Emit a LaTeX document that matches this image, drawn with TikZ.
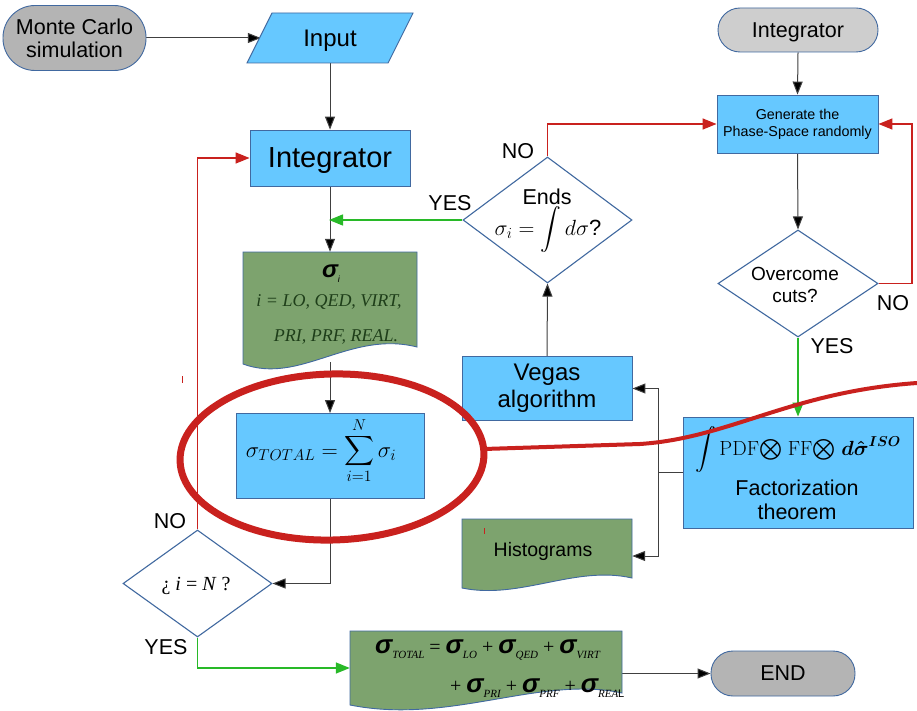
\RequirePackage{fix-cm}
\documentclass[tikz,border=0pt]{standalone}
\usepackage{amsmath}
\usepackage{bm}
\usepackage[no-math]{fontspec}
\setmainfont{Liberation Sans}
\newfontfamily\lserif{Liberation Serif}
\newfontfamily\lsans{Liberation Sans}
\usetikzlibrary{arrows.meta,shapes.geometric,backgrounds}
\definecolor{boxblue}{RGB}{102,200,255}
\definecolor{edgeblue}{RGB}{65,105,160}
\definecolor{docgreen}{RGB}{125,163,110}
\definecolor{txtgreen}{RGB}{30,62,25}
\definecolor{termgray}{RGB}{180,180,180}
\definecolor{termlight}{RGB}{206,206,206}
\definecolor{flowred}{RGB}{201,33,30}
\definecolor{flowgreen}{RGB}{40,185,40}
\newcommand\mysig[1]{{\lsans\fontsize{26}{26}\selectfont\bfseries\itshape σ}{\lserif\itshape\fontsize{11}{11}\selectfont\raisebox{-5pt}{#1}}}
\tikzset{
  every node/.style={inner sep=0pt, align=center, font=\fontsize{21.5}{24}\selectfont},
  sline/.style={text depth=0pt},
  procbox/.style={rectangle, draw=edgeblue, fill=boxblue, line width=0.9pt},
  termbox/.style={rectangle, draw=edgeblue, fill=termgray, line width=0.9pt},
  decbox/.style={diamond, draw=edgeblue, fill=white, line width=1.1pt},
  docbox/.style={draw=edgeblue, fill=docgreen, line width=0.9pt},
  conn/.style={draw=black!75, line width=1pt, -{Triangle[length=13pt,width=10pt,fill=black]}},
  plainconn/.style={draw=black!75, line width=1pt},
  redconn/.style={draw=flowred, line width=1.4pt, -{Triangle[length=14pt,width=11pt,fill=flowred]}},
  greenconn/.style={draw=flowgreen, line width=1.4pt, -{Triangle[length=14pt,width=11pt,fill=flowgreen]}},
  annot/.style={draw=flowred},
}
\begin{document}
\begin{tikzpicture}[x=1pt,y=-1pt]
\useasboundingbox (0,0) rectangle (917,711);

% ---- left column ----
\node[termbox, minimum width=143, minimum height=65, rounded corners=32pt, font=\fontsize{21.5}{23}\selectfont] (mc) at (74.5,38) {Monte Carlo\\simulation};

\draw[procbox] (247,63) -- (272,13) -- (413,13) -- (388,63) -- cycle;
\node[sline, minimum width=138, minimum height=50, font=\fontsize{24}{26}\selectfont] (input) at (330,38) {Input};

\node[procbox, sline, minimum width=160, minimum height=56, font=\fontsize{29}{32}\selectfont] (integ) at (330,158) {Integrator};

\draw[docbox] (243,252) -- (417,252) -- (417,347) .. controls (350,330) and (300,385) .. (243,364) -- cycle;
\node[minimum width=174, minimum height=110] (doci) at (330,307) {};
\node[font=\fontsize{24}{24}\selectfont] (sgi) at (331,274) {{\bfseries\itshape σ}\raisebox{-5pt}{\fontsize{9}{9}\selectfont\itshape i}};
\node[sline, font=\lserif\itshape\fontsize{18}{18}\selectfont, text=txtgreen] (li1) at (329,301) {i = LO, QED, VIRT,};
\node[sline, font=\lserif\itshape\fontsize{18}{18}\selectfont, text=txtgreen] (li2) at (336,336) {PRI, PRF, REAL.};

\node[procbox, minimum width=188, minimum height=85] (sum) at (330,456) {};
\node[anchor=base, font=\fontsize{22.5}{22}\selectfont] (sumf) at (321,457) {$\displaystyle\sigma_{TOTAL}=\sum_{i=1}^{N}\sigma_i$};

\node[decbox, minimum width=149, minimum height=107] (dN) at (197.5,583.5) {};
\node[sline, font=\lserif\fontsize{20}{20}\selectfont] (dNt) at (196,584) {¿ \textit{i} = \textit{N} ?};

\draw[docbox] (350,631) -- (622,631) -- (622,693) .. controls (540,675) and (450,725) .. (350,705) -- cycle;
\node[minimum width=272, minimum height=74] (tot) at (486,668) {};
\node[anchor=base west, font=\lserif\fontsize{20}{20}\selectfont] (tl1) at (375,653) {\mysig{TOTAL} = \mysig{LO} + \mysig{QED} + \mysig{VIRT}};
\node[anchor=base west, font=\lserif\fontsize{20}{20}\selectfont] (tl2) at (450,692) {+ \mysig{PRI} + \mysig{PRF} + \mysig{REA{\lsans\upshape L}}};

\node[termbox, sline, minimum width=144, minimum height=45, rounded corners=22pt] (end) at (783,673.5) {END};

% ---- middle column ----
\node[decbox, minimum width=169, minimum height=126] (dE) at (547.5,220) {};
\node[sline] (endst) at (547,197) {Ends};
\node[anchor=base, font=\fontsize{22}{22}\selectfont] (endsf) at (548,235) {$\displaystyle\sigma_i=\int d\sigma$?};

\node[procbox, minimum width=170, minimum height=64, font=\fontsize{24}{27}\selectfont] (vegas) at (547,388.5) {Vegas\\algorithm};

\draw[docbox] (462,519) -- (632,519) -- (632,578) .. controls (575,565) and (520,600) .. (462,588) -- cycle;
\node[minimum width=170, minimum height=74] (hist) at (547,556) {};
\node[sline, font=\fontsize{19.5}{22}\selectfont] (histt) at (543,549) {Histograms};

% ---- right column ----
\node[termbox, sline, fill=termlight, minimum width=160, minimum height=44, rounded corners=22pt] (integ2) at (798,30) {Integrator};
\node[procbox, minimum width=161, minimum height=58, font=\fontsize{14.3}{17}\selectfont] (gen) at (797.5,124) {Generate the\\Phase-Space randomly};
\node[decbox, minimum width=160, minimum height=107] (dO) at (798,283.5) {};
\node[font=\fontsize{19}{22}\selectfont] (dOt) at (795,285) {Overcome\\cuts?};
\node[procbox, minimum width=230, minimum height=111] (fact) at (798,472.5) {};
\node[anchor=base, font=\fontsize{20.5}{20}\selectfont] (factf) at (798,455) {$\displaystyle\int\mathrm{PDF}\mathord{\textstyle\bigotimes}\;\mathrm{FF}\mathord{\textstyle\bigotimes}\;\bm{d}\bm{\hat{\sigma}}^{\bm{ISO}}$};
\node (factt) at (797,500) {Factorization\\theorem};

% ---- labels ----
\node[sline] (noE) at (518,151) {NO};
\node[sline] (yesE) at (450,203) {YES};
\node[sline] (noO) at (893,303) {NO};
\node[sline] (yesO) at (832,346) {YES};
\node[sline] (noN) at (170,521) {NO};
\node[sline] (yesN) at (166,647) {YES};

% ---- connectors ----
\begin{pgfonlayer}{background}
\fill[white] (0,0) rectangle (917,711);
\draw[conn] (mc.east) -- (mc.east -| input.west);
\draw[conn] (input.south) -- (integ.north);
\draw[conn] (integ.south) -- (doci.north);
\draw[conn] (doci.south) -- (sum.north);
\draw[conn] (sum.south) |- (dN.east);
\draw[redconn] (dN.north) |- (integ.west);
\draw[greenconn] (dN.south) |- (tot.west);
\draw[conn] (tot.east |- end.west) -- (end.west);
\draw[greenconn, shorten >=-1pt] (dE.west) -- (dE.west -| integ.south);
\draw[redconn] (dE.north) |- (gen.west);
\draw[conn] (vegas.north) -- (dE.south);
\draw[conn] (integ2.south) -- (gen.north);
\draw[conn] (gen.south) -- (dO.north);
\coordinate (rO) at (912,283.5);
\draw[redconn] (dO.east) -- (rO) |- (gen.east);
\draw[greenconn] (dO.south) -- (dO.south |- fact.north);
\coordinate (bj) at (658,472.5);
\draw[plainconn] (fact.west) -- (bj);
\draw[conn] (bj) |- (vegas.east);
\draw[conn] (bj) |- (hist.east);
\end{pgfonlayer}

% ---- annotation ----
\draw[annot, line width=7pt, rotate around={1.5:(332,457)}] (332,457) ellipse [x radius=152pt, y radius=83pt];
\draw[annot, line width=4pt] (484,449) -- (640,444) .. controls (730,438) and (790,392) .. (917,383);
\draw[annot, line width=0.8pt] (182,376) -- (182,383);
\draw[annot, line width=0.8pt] (484,528) -- (484,534);
\end{tikzpicture}
\end{document}
